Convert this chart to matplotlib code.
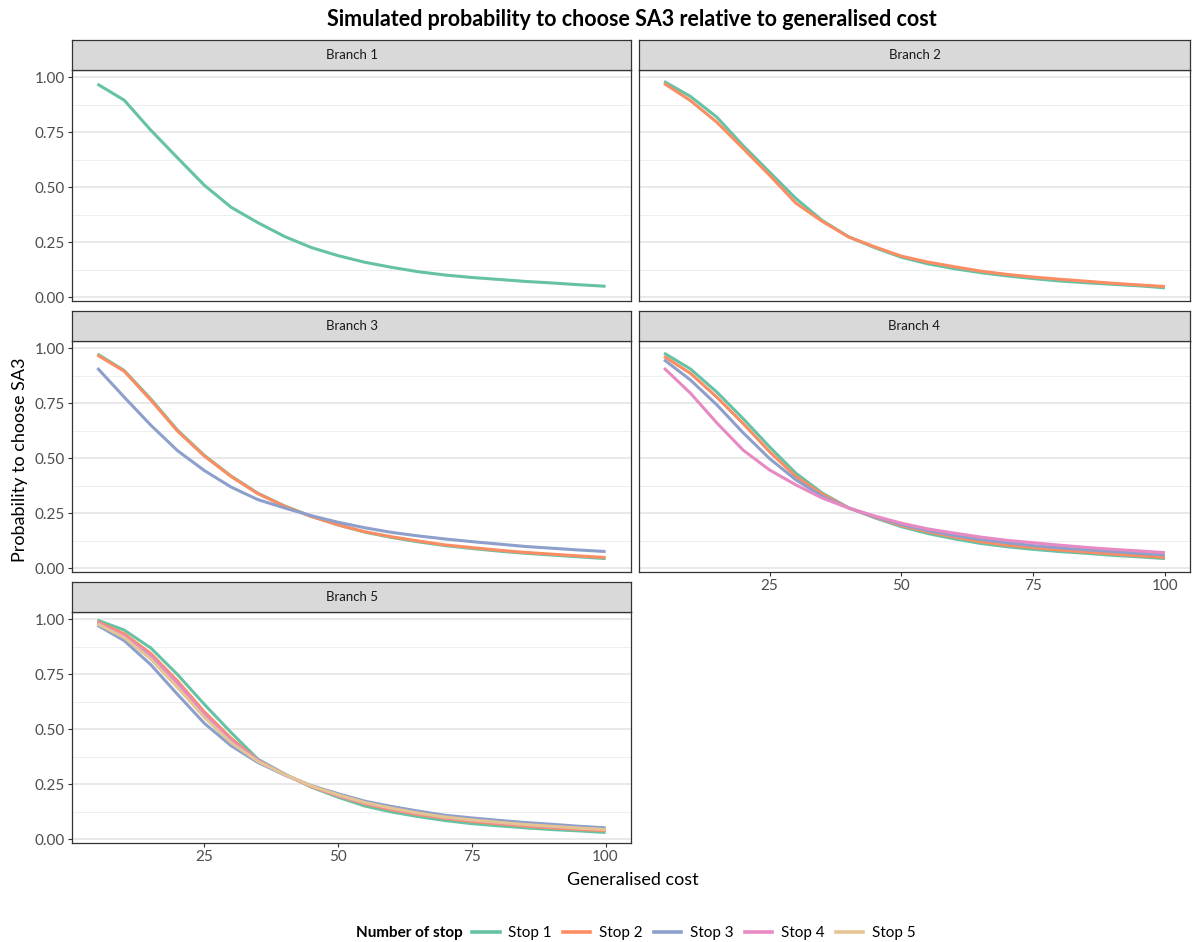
import numpy as np
import matplotlib.pyplot as plt
from matplotlib.lines import Line2D

plt.rcParams['font.family'] = ['Lato', 'DejaVu Sans']

# coste generalizado (eje x)
cost = [5, 10, 15, 20, 25, 30, 35, 40, 45, 50, 55, 60, 65, 70, 75, 80, 85, 90, 95, 100]

# Branch 1
b1_s1 = [0.970, 0.897, 0.760, 0.634, 0.510, 0.410, 0.340, 0.277, 0.227, 0.190, 0.160, 0.137, 0.117, 0.102, 0.091, 0.082, 0.073, 0.066, 0.058, 0.051]
# Branch 2
b2_s1 = [0.982, 0.914, 0.820, 0.690, 0.570, 0.450, 0.350, 0.276, 0.226, 0.183, 0.153, 0.131, 0.113, 0.098, 0.086, 0.075, 0.067, 0.060, 0.053, 0.044]
b2_s2 = [0.973, 0.895, 0.797, 0.677, 0.556, 0.429, 0.346, 0.275, 0.230, 0.188, 0.161, 0.140, 0.120, 0.105, 0.093, 0.083, 0.074, 0.065, 0.057, 0.050]
# Branch 3
b3_s1 = [0.975, 0.900, 0.770, 0.628, 0.514, 0.420, 0.342, 0.284, 0.237, 0.198, 0.165, 0.141, 0.121, 0.104, 0.091, 0.079, 0.069, 0.061, 0.053, 0.045]
b3_s2 = [0.970, 0.897, 0.765, 0.624, 0.511, 0.418, 0.340, 0.283, 0.236, 0.198, 0.167, 0.144, 0.125, 0.107, 0.095, 0.083, 0.073, 0.065, 0.057, 0.050]
b3_s3 = [0.911, 0.779, 0.651, 0.535, 0.445, 0.370, 0.313, 0.275, 0.240, 0.210, 0.185, 0.164, 0.148, 0.134, 0.122, 0.111, 0.100, 0.092, 0.084, 0.077]
# Branch 4
b4_s1 = [0.979, 0.907, 0.802, 0.681, 0.553, 0.433, 0.343, 0.276, 0.230, 0.190, 0.159, 0.135, 0.114, 0.099, 0.087, 0.077, 0.069, 0.060, 0.053, 0.045]
b4_s2 = [0.964, 0.887, 0.779, 0.659, 0.531, 0.418, 0.338, 0.275, 0.233, 0.195, 0.167, 0.143, 0.122, 0.106, 0.095, 0.084, 0.075, 0.066, 0.058, 0.050]
b4_s3 = [0.949, 0.857, 0.744, 0.617, 0.500, 0.403, 0.328, 0.275, 0.235, 0.200, 0.173, 0.150, 0.132, 0.117, 0.104, 0.094, 0.085, 0.077, 0.069, 0.062]
b4_s4 = [0.911, 0.797, 0.662, 0.538, 0.448, 0.380, 0.320, 0.275, 0.238, 0.206, 0.180, 0.161, 0.143, 0.128, 0.117, 0.106, 0.096, 0.087, 0.080, 0.072]
# Branch 5
b5_s1 = [0.997, 0.952, 0.870, 0.749, 0.614, 0.486, 0.365, 0.298, 0.238, 0.192, 0.152, 0.125, 0.104, 0.086, 0.072, 0.062, 0.053, 0.045, 0.039, 0.032]
b5_s2 = [0.990, 0.935, 0.845, 0.720, 0.580, 0.460, 0.360, 0.295, 0.240, 0.198, 0.162, 0.135, 0.113, 0.096, 0.082, 0.071, 0.061, 0.053, 0.046, 0.040]
b5_s3 = [0.974, 0.904, 0.794, 0.659, 0.528, 0.426, 0.350, 0.293, 0.245, 0.208, 0.174, 0.150, 0.129, 0.110, 0.098, 0.087, 0.077, 0.069, 0.060, 0.053]
b5_s4 = [0.985, 0.925, 0.835, 0.710, 0.570, 0.450, 0.360, 0.295, 0.242, 0.200, 0.166, 0.140, 0.118, 0.100, 0.087, 0.076, 0.066, 0.058, 0.051, 0.045]
b5_s5 = [0.980, 0.918, 0.820, 0.690, 0.555, 0.440, 0.355, 0.295, 0.243, 0.203, 0.168, 0.142, 0.120, 0.102, 0.089, 0.078, 0.068, 0.060, 0.052, 0.045]

branches = ["Branch 1", "Branch 2", "Branch 3", "Branch 4", "Branch 5"]
stops = ["Stop 1", "Stop 2", "Stop 3", "Stop 4", "Stop 5"]
colores = ["#66C2A5", "#FC8D62", "#8DA0CB", "#E78AC3", "#E5C494"]

series = [
    [b1_s1],
    [b2_s1, b2_s2],
    [b3_s1, b3_s2, b3_s3],
    [b4_s1, b4_s2, b4_s3, b4_s4],
    [b5_s1, b5_s2, b5_s3, b5_s4, b5_s5],
]

W, H = 1192, 942
fig = plt.figure(figsize=(W / 100, H / 100), dpi=100)


def rect(x0, x1, top, bottom):
    # pixeles -> fracción de figura
    return [x0 / W, 1 - bottom / H, (x1 - x0) / W, (bottom - top) / H]


cols = [(72, 631), (639, 1190)]
rows = [(40, 70, 301), (311, 341, 572), (582, 612, 843)]

for i, name in enumerate(branches):
    r, c = divmod(i, 2)
    x0, x1 = cols[c]
    st, pt, pb = rows[r]

    ax = fig.add_axes(rect(x0, x1, pt, pb))
    for j, y in enumerate(series[i]):
        ax.plot(cost, y, color=colores[j], lw=2.2, solid_capstyle='butt')

    ax.set_xlim(0.25, 104.75)
    ax.set_ylim(-0.016, 1.034)
    ax.set_xticks([25, 50, 75, 100])
    ax.set_yticks([0, 0.25, 0.5, 0.75, 1.0])
    ax.set_yticks([0.125, 0.375, 0.625, 0.875], minor=True)
    ax.grid(axis='y', which='major', color='#E3E3E3', lw=1.1)
    ax.grid(axis='y', which='minor', color='#EBEBEB', lw=0.6)
    ax.set_axisbelow(True)
    for s in ax.spines.values():
        s.set_color('#333333')
        s.set_linewidth(0.9)
    ax.tick_params(which='both', length=3, width=0.8, color='#333333',
                   labelsize=11, labelcolor='#4D4D4D', pad=2)
    ax.tick_params(which='minor', length=0)

    if c == 0:
        ax.set_yticklabels(["0.00", "0.25", "0.50", "0.75", "1.00"])
    else:
        ax.tick_params(axis='y', left=False, labelleft=False)
    if name not in ("Branch 4", "Branch 5"):
        ax.tick_params(axis='x', bottom=False, labelbottom=False)

    # tira del facet
    sa = fig.add_axes(rect(x0, x1, st, pt))
    sa.set_facecolor('#D9D9D9')
    sa.set_xticks([])
    sa.set_yticks([])
    for s in sa.spines.values():
        s.set_color('#333333')
        s.set_linewidth(0.9)
    sa.text(0.5, 0.5, name, ha='center', va='center', fontsize=9.5, color='#1A1A1A')

fig.text(632 / W, 1 - 20 / H, "Simulated probability to choose SA3 relative to generalised cost",
         ha='center', va='center', fontsize=15.5, fontweight='bold')
fig.text(633 / W, 1 - 880 / H, "Generalised cost", ha='center', va='center', fontsize=13)
fig.text(20 / W, 1 - 460 / H, "Probability to choose SA3", ha='center', va='center',
         rotation=90, fontsize=13)

# leyenda
fig.text(463 / W, 1 - 933 / H, "Number of stop", ha='right', va='center',
         fontsize=11, fontweight='bold')
handles = [Line2D([], [], color=colores[k], lw=2.6) for k in range(5)]
fig.legend(handles, stops, loc='center left', bbox_to_anchor=(472 / W, 1 - 933 / H),
           ncol=5, frameon=False, fontsize=11, handlelength=1.8, handletextpad=0.55,
           columnspacing=0.75, borderaxespad=0, borderpad=0)

fig.savefig("out.png", dpi=100)
